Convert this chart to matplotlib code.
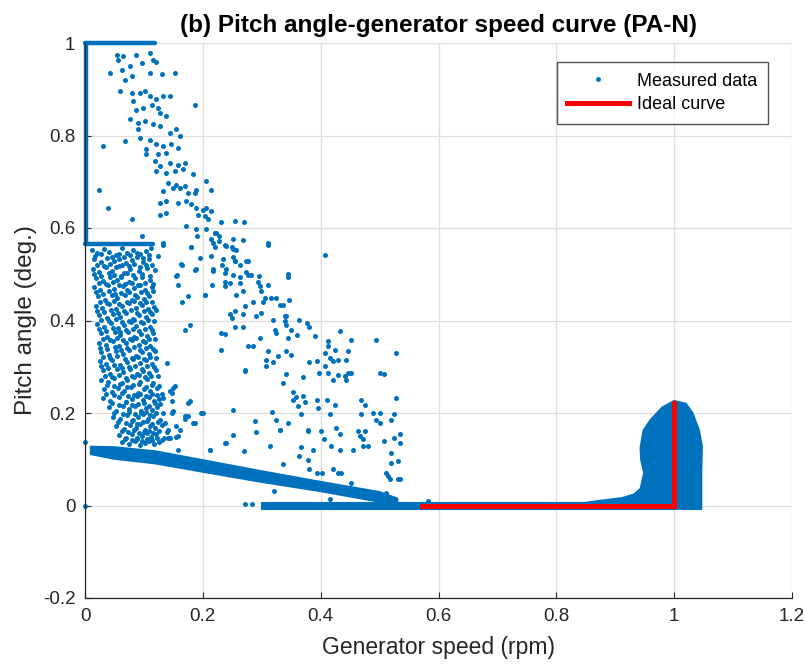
import matplotlib
matplotlib.use("Agg")
import matplotlib.pyplot as plt
from matplotlib.lines import Line2D

plt.rcParams['font.family'] = ['Liberation Sans', 'DejaVu Sans']

BLUE = '#0072BD'
DARK = '#262626'

# ---------------- data ----------------
xticks = [0, 0.2, 0.4, 0.6, 0.8, 1.0, 1.2]
xtick_labels = ['0', '0.2', '0.4', '0.6', '0.8', '1', '1.2']
yticks = [-0.2, 0, 0.2, 0.4, 0.6, 0.8, 1.0]
ytick_labels = ['-0.2', '0', '0.2', '0.4', '0.6', '0.8', '1']

# saturated lines of measurements (dense)
top_line_x = [0.0, 0.118]
top_line_y = [1.0, 1.0]
axis_line_x = [0.002, 0.002]
axis_line_y = [0.565, 1.0]
mid_line_x = [0.0, 0.115]
mid_line_y = [0.566, 0.566]

# dense diagonal band (outline)
diag_x = [0.01, 0.05, 0.12, 0.20, 0.30, 0.40, 0.50, 0.53, 0.53, 0.50, 0.40, 0.30, 0.20, 0.12, 0.05, 0.01]
diag_y = [0.127, 0.126, 0.117, 0.098, 0.074, 0.051, 0.029, 0.015, 0.0, 0.008, 0.031, 0.051, 0.073, 0.091, 0.101, 0.111]

# dense band around zero pitch (outline)
zero_x = [0.30, 1.045, 1.045, 0.30]
zero_y = [0.006, 0.006, -0.007, -0.007]

# dense cluster around rated speed (outline)
clus_x = [0.84, 0.873, 0.912, 0.932, 0.943, 0.949, 0.944, 0.943, 0.948, 0.960, 0.980, 1.000,
          1.020, 1.031, 1.042, 1.047, 1.046, 1.046, 1.046]
clus_y = [0.004, 0.010, 0.016, 0.024, 0.036, 0.070, 0.099, 0.125, 0.162, 0.185, 0.212, 0.226,
          0.220, 0.200, 0.163, 0.128, 0.071, 0.027, -0.004]

# sparse measured points: upper diagonal cloud
upper_pts = [
    (0.0535, 0.975), (0.056, 0.964), (0.065, 0.971), (0.087, 0.975), (0.110, 0.978), (0.115, 0.964),
    (0.121, 0.960), (0.096, 0.957), (0.076, 0.950), (0.062, 0.942), (0.042, 0.935), (0.068, 0.921),
    (0.079, 0.928), (0.110, 0.935), (0.130, 0.932), (0.152, 0.935), (0.059, 0.896), (0.079, 0.892),
    (0.093, 0.892), (0.101, 0.896), (0.110, 0.885), (0.121, 0.878), (0.132, 0.885), (0.144, 0.885),
    (0.186, 0.867), (0.082, 0.874), (0.087, 0.856), (0.099, 0.860), (0.113, 0.867), (0.124, 0.860),
    (0.127, 0.849), (0.138, 0.842), (0.076, 0.835), (0.090, 0.827), (0.101, 0.831), (0.116, 0.824),
    (0.127, 0.820), (0.090, 0.813), (0.144, 0.806), (0.155, 0.813), (0.161, 0.799), (0.031, 0.777),
    (0.068, 0.788), (0.093, 0.795), (0.110, 0.791), (0.121, 0.781), (0.132, 0.777), (0.146, 0.781),
    (0.104, 0.770), (0.104, 0.759), (0.124, 0.759), (0.138, 0.763), (0.158, 0.773), (0.118, 0.745),
    (0.127, 0.734), (0.144, 0.741), (0.158, 0.737), (0.169, 0.741), (0.121, 0.723), (0.138, 0.719),
    (0.152, 0.723), (0.166, 0.727), (0.183, 0.716), (0.023, 0.683), (0.141, 0.698), (0.155, 0.694),
    (0.161, 0.687), (0.149, 0.687), (0.169, 0.691), (0.189, 0.683), (0.206, 0.701), (0.214, 0.683),
    (0.132, 0.680), (0.175, 0.676), (0.186, 0.676), (0.039, 0.644), (0.127, 0.655), (0.138, 0.658),
    (0.158, 0.655), (0.172, 0.658), (0.180, 0.651), (0.189, 0.644), (0.200, 0.640), (0.206, 0.644),
    (0.214, 0.637), (0.138, 0.633), (0.127, 0.629), (0.192, 0.629), (0.203, 0.626), (0.079, 0.619),
    (0.208, 0.619), (0.231, 0.612), (0.254, 0.615), (0.270, 0.612), (0.172, 0.604), (0.189, 0.597),
    (0.206, 0.597), (0.220, 0.590), (0.096, 0.583), (0.132, 0.568), (0.124, 0.540), (0.214, 0.576),
    (0.228, 0.572), (0.251, 0.576), (0.310, 0.568), (0.220, 0.558), (0.240, 0.561), (0.251, 0.554),
    (0.180, 0.558), (0.214, 0.540), (0.234, 0.532), (0.254, 0.529), (0.276, 0.529), (0.189, 0.511),
    (0.217, 0.511), (0.163, 0.522), (0.155, 0.496), (0.240, 0.511), (0.273, 0.504), (0.296, 0.496),
    (0.344, 0.500), (0.223, 0.589), (0.227, 0.582), (0.2175, 0.567), (0.237, 0.564), (0.249, 0.560),
    (0.257, 0.553), (0.268, 0.575), (0.311, 0.564), (0.407, 0.542), (0.232, 0.521), (0.251, 0.538),
    (0.254, 0.528), (0.263, 0.521), (0.274, 0.528), (0.2175, 0.506), (0.237, 0.503), (0.251, 0.499),
    (0.263, 0.495), (0.277, 0.499), (0.2825, 0.499), (0.345, 0.495), (0.237, 0.484), (0.246, 0.481),
    (0.263, 0.481), (0.215, 0.477), (0.237, 0.474), (0.294, 0.484), (0.297, 0.474), (0.311, 0.477),
    (0.268, 0.463), (0.257, 0.456), (0.299, 0.463), (0.203, 0.456), (0.305, 0.449), (0.316, 0.449),
    (0.325, 0.449), (0.285, 0.441), (0.302, 0.441), (0.347, 0.445), (0.331, 0.434), (0.336, 0.434),
    (0.271, 0.431), (0.254, 0.420), (0.246, 0.413), (0.268, 0.413), (0.291, 0.409), (0.299, 0.416),
    (0.249, 0.405), (0.319, 0.402), (0.339, 0.409), (0.342, 0.409), (0.339, 0.398), (0.342, 0.391),
    (0.364, 0.402), (0.376, 0.395), (0.381, 0.387), (0.322, 0.380), (0.350, 0.380), (0.359, 0.369),
    (0.325, 0.373), (0.254, 0.387), (0.268, 0.387), (0.237, 0.371), (0.345, 0.362), (0.297, 0.362),
    (0.390, 0.367), (0.432, 0.377), (0.412, 0.355), (0.452, 0.358), (0.494, 0.358), (0.412, 0.344),
    (0.424, 0.337), (0.277, 0.344), (0.285, 0.344), (0.230, 0.336), (0.311, 0.333), (0.342, 0.333),
    (0.350, 0.326), (0.328, 0.324), (0.407, 0.330), (0.446, 0.333), (0.415, 0.319), (0.429, 0.315),
    (0.443, 0.315), (0.421, 0.312), (0.308, 0.315), (0.319, 0.310), (0.381, 0.310), (0.393, 0.312),
    (0.528, 0.330), (0.308, 0.301), (0.407, 0.301), (0.271, 0.290), (0.342, 0.285), (0.370, 0.278),
    (0.398, 0.287), (0.412, 0.287), (0.429, 0.283), (0.441, 0.279), (0.446, 0.287), (0.452, 0.287),
    (0.500, 0.287), (0.508, 0.285),
]

# sparse measured points: lower middle region
middle_pts = [
    (0.421, 0.272), (0.443, 0.272), (0.336, 0.265), (0.353, 0.229), (0.362, 0.215), (0.370, 0.236),
    (0.393, 0.229), (0.396, 0.211), (0.410, 0.229), (0.416, 0.197), (0.425, 0.218), (0.469, 0.229),
    (0.469, 0.197), (0.475, 0.218), (0.489, 0.200), (0.500, 0.200), (0.494, 0.185), (0.500, 0.178),
    (0.520, 0.185), (0.525, 0.197), (0.528, 0.232), (0.331, 0.164), (0.378, 0.161), (0.401, 0.161),
    (0.426, 0.168), (0.432, 0.154), (0.466, 0.150), (0.463, 0.161), (0.475, 0.161), (0.406, 0.143),
    (0.418, 0.128), (0.472, 0.143), (0.472, 0.128), (0.480, 0.128), (0.455, 0.121), (0.432, 0.120),
    (0.387, 0.121), (0.508, 0.139), (0.525, 0.146), (0.534, 0.154), (0.534, 0.136), (0.520, 0.114),
    (0.531, 0.096), (0.520, 0.092), (0.364, 0.106), (0.336, 0.089), (0.381, 0.078), (0.393, 0.071),
    (0.403, 0.071), (0.421, 0.078), (0.429, 0.071), (0.435, 0.071), (0.452, 0.049), (0.511, 0.071),
    (0.514, 0.064), (0.517, 0.057), (0.531, 0.058), (0.534, 0.057), (0.415, 0.013), (0.511, 0.028),
    (0.582, 0.010), (0.133, 0.564), (0.190, 0.582), (0.220, 0.589), (0.180, 0.560), (0.195, 0.535),
    (0.164, 0.521), (0.187, 0.510), (0.156, 0.499), (0.158, 0.477), (0.164, 0.441), (0.175, 0.452),
    (0.203, 0.455), (0.178, 0.391), (0.169, 0.380), (0.231, 0.373), (0.139, 0.308), (0.272, 0.294),
    (0.197, 0.200), (0.252, 0.207), (0.153, 0.258), (0.145, 0.248), (0.133, 0.233), (0.148, 0.226),
    (0.178, 0.226), (0.170, 0.194), (0.150, 0.204), (0.184, 0.178), (0.155, 0.171), (0.141, 0.164),
    (0.144, 0.146), (0.158, 0.150), (0.175, 0.194), (0.212, 0.121), (0.252, 0.153), (0.238, 0.135),
    (0.289, 0.182), (0.291, 0.160), (0.317, 0.203), (0.331, 0.164), (0.325, 0.185), (0.345, 0.178),
    (0.314, 0.128), (0.270, 0.117), (0.320, 0.031), (0.366, 0.126), (0.353, 0.246), (0.358, 0.235),
    (0.373, 0.224), (0.366, 0.198), (0.379, 0.164), (0.379, 0.099), (0.175, 0.222), (0.201, 0.200),
    (0.150, 0.254), (0.147, 0.243), (0.147, 0.200), (0.161, 0.164), (0.141, 0.146), (0.155, 0.148),
    (0.169, 0.186), (0.186, 0.179), (0.212, 0.119), (0.239, 0.135), (0.158, 0.121),
    (0.271, 0.004), (0.284, 0.004), (0.0, 0.0), (0.0, 0.138),
]

# sparse measured points: left column below the 0.566 saturation line (first set)
left_pts = [
    (0.012, 0.552), (0.021, 0.545), (0.033, 0.554), (0.041, 0.548), (0.052, 0.541), (0.063, 0.556),
    (0.071, 0.547), (0.082, 0.553), (0.094, 0.544), (0.103, 0.550), (0.112, 0.556),
    (0.016, 0.532), (0.027, 0.526), (0.038, 0.535), (0.049, 0.528), (0.058, 0.534), (0.069, 0.524),
    (0.079, 0.530), (0.088, 0.537), (0.099, 0.527), (0.108, 0.533),
    (0.013, 0.512), (0.024, 0.505), (0.036, 0.515), (0.045, 0.508), (0.057, 0.518), (0.066, 0.503),
    (0.077, 0.511), (0.091, 0.507), (0.105, 0.514), (0.118, 0.509),
    (0.019, 0.492), (0.030, 0.486), (0.043, 0.495), (0.054, 0.488), (0.061, 0.497), (0.074, 0.484),
    (0.085, 0.491), (0.096, 0.494), (0.110, 0.487),
    (0.015, 0.472), (0.026, 0.466), (0.039, 0.476), (0.050, 0.468), (0.064, 0.474), (0.072, 0.465),
    (0.083, 0.471), (0.093, 0.477), (0.102, 0.467), (0.114, 0.473),
    (0.022, 0.452), (0.034, 0.445), (0.046, 0.455), (0.055, 0.448), (0.068, 0.456), (0.080, 0.444),
    (0.089, 0.451), (0.100, 0.447), (0.109, 0.454),
    (0.018, 0.432), (0.029, 0.426), (0.041, 0.435), (0.053, 0.424), (0.062, 0.431), (0.075, 0.437),
    (0.086, 0.428), (0.097, 0.434), (0.107, 0.425), (0.117, 0.430),
    (0.024, 0.412), (0.037, 0.405), (0.047, 0.415), (0.059, 0.408), (0.070, 0.416), (0.081, 0.404),
    (0.092, 0.411), (0.104, 0.407), (0.113, 0.414),
    (0.020, 0.392), (0.032, 0.386), (0.044, 0.395), (0.056, 0.384), (0.066, 0.391), (0.078, 0.397),
    (0.087, 0.388), (0.098, 0.394), (0.110, 0.385),
    (0.027, 0.372), (0.038, 0.365), (0.051, 0.375), (0.060, 0.368), (0.073, 0.376), (0.084, 0.364),
    (0.095, 0.371), (0.105, 0.367), (0.116, 0.374),
    (0.023, 0.352), (0.035, 0.346), (0.048, 0.355), (0.057, 0.344), (0.069, 0.351), (0.079, 0.357),
    (0.091, 0.348), (0.101, 0.354), (0.111, 0.345),
    (0.028, 0.332), (0.040, 0.325), (0.052, 0.335), (0.064, 0.328), (0.075, 0.336), (0.086, 0.324),
    (0.097, 0.331), (0.108, 0.327), (0.119, 0.334),
    (0.025, 0.312), (0.036, 0.306), (0.046, 0.315), (0.059, 0.304), (0.071, 0.311), (0.082, 0.317),
    (0.093, 0.308), (0.103, 0.314), (0.113, 0.305),
    (0.030, 0.292), (0.042, 0.285), (0.054, 0.295), (0.065, 0.288), (0.077, 0.296), (0.088, 0.284),
    (0.099, 0.291), (0.109, 0.287), (0.121, 0.294),
    (0.027, 0.272), (0.039, 0.266), (0.050, 0.275), (0.062, 0.264), (0.072, 0.271), (0.083, 0.277),
    (0.094, 0.268), (0.106, 0.274), (0.115, 0.265),
    (0.033, 0.252), (0.045, 0.245), (0.056, 0.255), (0.067, 0.248), (0.078, 0.256), (0.090, 0.244),
    (0.100, 0.251), (0.111, 0.247), (0.122, 0.254),
    (0.031, 0.232), (0.043, 0.226), (0.058, 0.235), (0.069, 0.224), (0.080, 0.231), (0.089, 0.237),
    (0.098, 0.228), (0.108, 0.234), (0.117, 0.225), (0.126, 0.230),
    (0.040, 0.212), (0.053, 0.205), (0.064, 0.215), (0.074, 0.208), (0.085, 0.216), (0.095, 0.204),
    (0.104, 0.211), (0.113, 0.207), (0.123, 0.214),
    (0.047, 0.192), (0.060, 0.186), (0.071, 0.195), (0.081, 0.184), (0.090, 0.191), (0.099, 0.197),
    (0.107, 0.188), (0.116, 0.194), (0.128, 0.185),
    (0.052, 0.172), (0.066, 0.165), (0.076, 0.175), (0.086, 0.168), (0.094, 0.176), (0.102, 0.164),
    (0.110, 0.171), (0.119, 0.167), (0.131, 0.174),
    (0.058, 0.152), (0.070, 0.146), (0.080, 0.155), (0.089, 0.144), (0.097, 0.151), (0.105, 0.157),
    (0.112, 0.148), (0.121, 0.154), (0.134, 0.145),
    (0.063, 0.137), (0.075, 0.133), (0.085, 0.139), (0.093, 0.131), (0.101, 0.136), (0.109, 0.140),
    (0.117, 0.132), (0.126, 0.138),
]

# left column (second, interleaved set)
left_pts2 = [
    (0.017, 0.540), (0.028, 0.543), (0.046, 0.537), (0.057, 0.544), (0.067, 0.538), (0.077, 0.541),
    (0.088, 0.545), (0.098, 0.536), (0.108, 0.542),
    (0.020, 0.520), (0.032, 0.517), (0.043, 0.523), (0.053, 0.515), (0.063, 0.521), (0.074, 0.518),
    (0.084, 0.522), (0.094, 0.516), (0.103, 0.520), (0.113, 0.519),
    (0.016, 0.500), (0.027, 0.497), (0.040, 0.503), (0.050, 0.499), (0.061, 0.495), (0.071, 0.502),
    (0.082, 0.498), (0.097, 0.501), (0.110, 0.496),
    (0.023, 0.481), (0.035, 0.478), (0.047, 0.483), (0.058, 0.476), (0.068, 0.480), (0.079, 0.482),
    (0.090, 0.477), (0.101, 0.481), (0.115, 0.479),
    (0.019, 0.461), (0.030, 0.458), (0.041, 0.463), (0.051, 0.457), (0.061, 0.460), (0.074, 0.462),
    (0.085, 0.456), (0.095, 0.461), (0.105, 0.459), (0.116, 0.463),
    (0.026, 0.441), (0.037, 0.438), (0.049, 0.442), (0.058, 0.436), (0.071, 0.440), (0.083, 0.443),
    (0.094, 0.437), (0.104, 0.440), (0.113, 0.439),
    (0.021, 0.421), (0.033, 0.418), (0.044, 0.423), (0.056, 0.417), (0.066, 0.420), (0.078, 0.422),
    (0.089, 0.416), (0.100, 0.421), (0.110, 0.419), (0.120, 0.422),
    (0.028, 0.401), (0.041, 0.398), (0.052, 0.403), (0.063, 0.397), (0.074, 0.400), (0.084, 0.402),
    (0.095, 0.396), (0.107, 0.401), (0.117, 0.399),
    (0.024, 0.381), (0.035, 0.378), (0.048, 0.383), (0.059, 0.376), (0.070, 0.380), (0.081, 0.382),
    (0.091, 0.377), (0.102, 0.381), (0.113, 0.379),
    (0.030, 0.361), (0.042, 0.358), (0.054, 0.363), (0.064, 0.357), (0.076, 0.360), (0.087, 0.362),
    (0.098, 0.356), (0.108, 0.361), (0.119, 0.359),
    (0.026, 0.341), (0.038, 0.338), (0.051, 0.343), (0.061, 0.337), (0.072, 0.340), (0.083, 0.342),
    (0.094, 0.336), (0.104, 0.341), (0.115, 0.339),
    (0.031, 0.321), (0.043, 0.318), (0.055, 0.323), (0.068, 0.317), (0.079, 0.320), (0.090, 0.322),
    (0.100, 0.316), (0.110, 0.321), (0.121, 0.319),
    (0.028, 0.301), (0.039, 0.298), (0.050, 0.303), (0.062, 0.297), (0.074, 0.300), (0.085, 0.302),
    (0.096, 0.296), (0.106, 0.301), (0.117, 0.299),
    (0.034, 0.281), (0.046, 0.278), (0.058, 0.283), (0.069, 0.276), (0.080, 0.280), (0.091, 0.282),
    (0.102, 0.277), (0.112, 0.281), (0.124, 0.279),
    (0.037, 0.261), (0.049, 0.258), (0.060, 0.263), (0.071, 0.257), (0.082, 0.260), (0.092, 0.262),
    (0.103, 0.256), (0.114, 0.261), (0.125, 0.259),
    (0.036, 0.241), (0.050, 0.238), (0.062, 0.243), (0.073, 0.237), (0.084, 0.240), (0.094, 0.242),
    (0.104, 0.236), (0.113, 0.241), (0.122, 0.239), (0.130, 0.242),
    (0.045, 0.221), (0.058, 0.218), (0.069, 0.223), (0.079, 0.217), (0.090, 0.220), (0.100, 0.222),
    (0.109, 0.216), (0.118, 0.221), (0.128, 0.219),
    (0.050, 0.201), (0.064, 0.198), (0.075, 0.203), (0.085, 0.197), (0.095, 0.200), (0.103, 0.202),
    (0.111, 0.196), (0.120, 0.201), (0.132, 0.199),
    (0.056, 0.181), (0.069, 0.178), (0.079, 0.183), (0.089, 0.176), (0.098, 0.180), (0.106, 0.182),
    (0.114, 0.177), (0.124, 0.181), (0.136, 0.179),
    (0.062, 0.161), (0.073, 0.158), (0.083, 0.163), (0.092, 0.157), (0.100, 0.160), (0.108, 0.162),
    (0.116, 0.156), (0.125, 0.161), (0.140, 0.159),
    (0.068, 0.143), (0.079, 0.141), (0.088, 0.145), (0.097, 0.140), (0.105, 0.144), (0.113, 0.142),
    (0.122, 0.146), (0.130, 0.141),
]

# ideal curve
ideal_x = [0.572, 1.0, 1.0]
ideal_y = [0.0, 0.0, 0.222]

# ---------------- plot ----------------
fig = plt.figure(figsize=(8.05, 6.66), dpi=100)
ax = fig.add_axes([85 / 805, (666 - 598) / 666, (792 - 85) / 805, (598 - 43) / 666])

ax.set_xlim(0, 1.2)
ax.set_ylim(-0.2, 1.0)
ax.set_xticks(xticks)
ax.set_xticklabels(xtick_labels)
ax.set_yticks(yticks)
ax.set_yticklabels(ytick_labels)
ax.grid(True, color='#dedede', linewidth=0.9)
ax.set_axisbelow(True)

for side in ['top', 'right']:
    ax.spines[side].set_visible(False)
for side in ['left', 'bottom']:
    ax.spines[side].set_color(DARK)
    ax.spines[side].set_linewidth(0.9)
ax.tick_params(direction='in', length=4, width=0.8, colors=DARK, labelsize=13.5, pad=7)

lw_band = 3.2
ax.plot(top_line_x, top_line_y, color=BLUE, lw=lw_band, solid_capstyle='round', clip_on=False, zorder=2)
ax.plot(axis_line_x, axis_line_y, color=BLUE, lw=lw_band, solid_capstyle='round', clip_on=False, zorder=2)
ax.plot(mid_line_x, mid_line_y, color=BLUE, lw=lw_band, solid_capstyle='round', clip_on=False, zorder=2)

ax.fill(diag_x, diag_y, color=BLUE, lw=1.5, ec=BLUE, zorder=2)
ax.fill(zero_x, zero_y, color=BLUE, lw=1.5, ec=BLUE, zorder=2)
ax.fill(clus_x, clus_y, color=BLUE, lw=1.5, ec=BLUE, zorder=2)

for pts in (upper_pts, middle_pts, left_pts, left_pts2):
    xs = [p[0] for p in pts]
    ys = [p[1] for p in pts]
    ax.scatter(xs, ys, s=13, color=BLUE, linewidths=0, zorder=2, clip_on=False)

ax.plot(ideal_x, ideal_y, color='#ff0000', lw=3.6, zorder=3, solid_joinstyle='miter')

handles = [Line2D([], [], color=BLUE, marker='.', markersize=5, linestyle='none'),
           Line2D([], [], color='#ff0000', lw=3.6)]
leg = ax.legend(handles, ['Measured data', 'Ideal curve'], loc='upper right',
                bbox_to_anchor=(0.966, 0.966), fontsize=13, frameon=True, fancybox=False,
                handlelength=3.4, handletextpad=0.45, borderpad=0.6, labelspacing=0.35,
                borderaxespad=0)
leg.get_frame().set_edgecolor(DARK)
leg.get_frame().set_linewidth(1.0)

ax.set_title('(b) Pitch angle-generator speed curve (PA-N)', fontsize=17.5, fontweight='bold',
             color='black', pad=8)
ax.set_xlabel('Generator speed (rpm)', fontsize=16.5, color=DARK, labelpad=8)
ax.set_ylabel('Pitch angle (deg.)', fontsize=17.5, color=DARK, labelpad=4)

fig.savefig('out.png', dpi=100)
